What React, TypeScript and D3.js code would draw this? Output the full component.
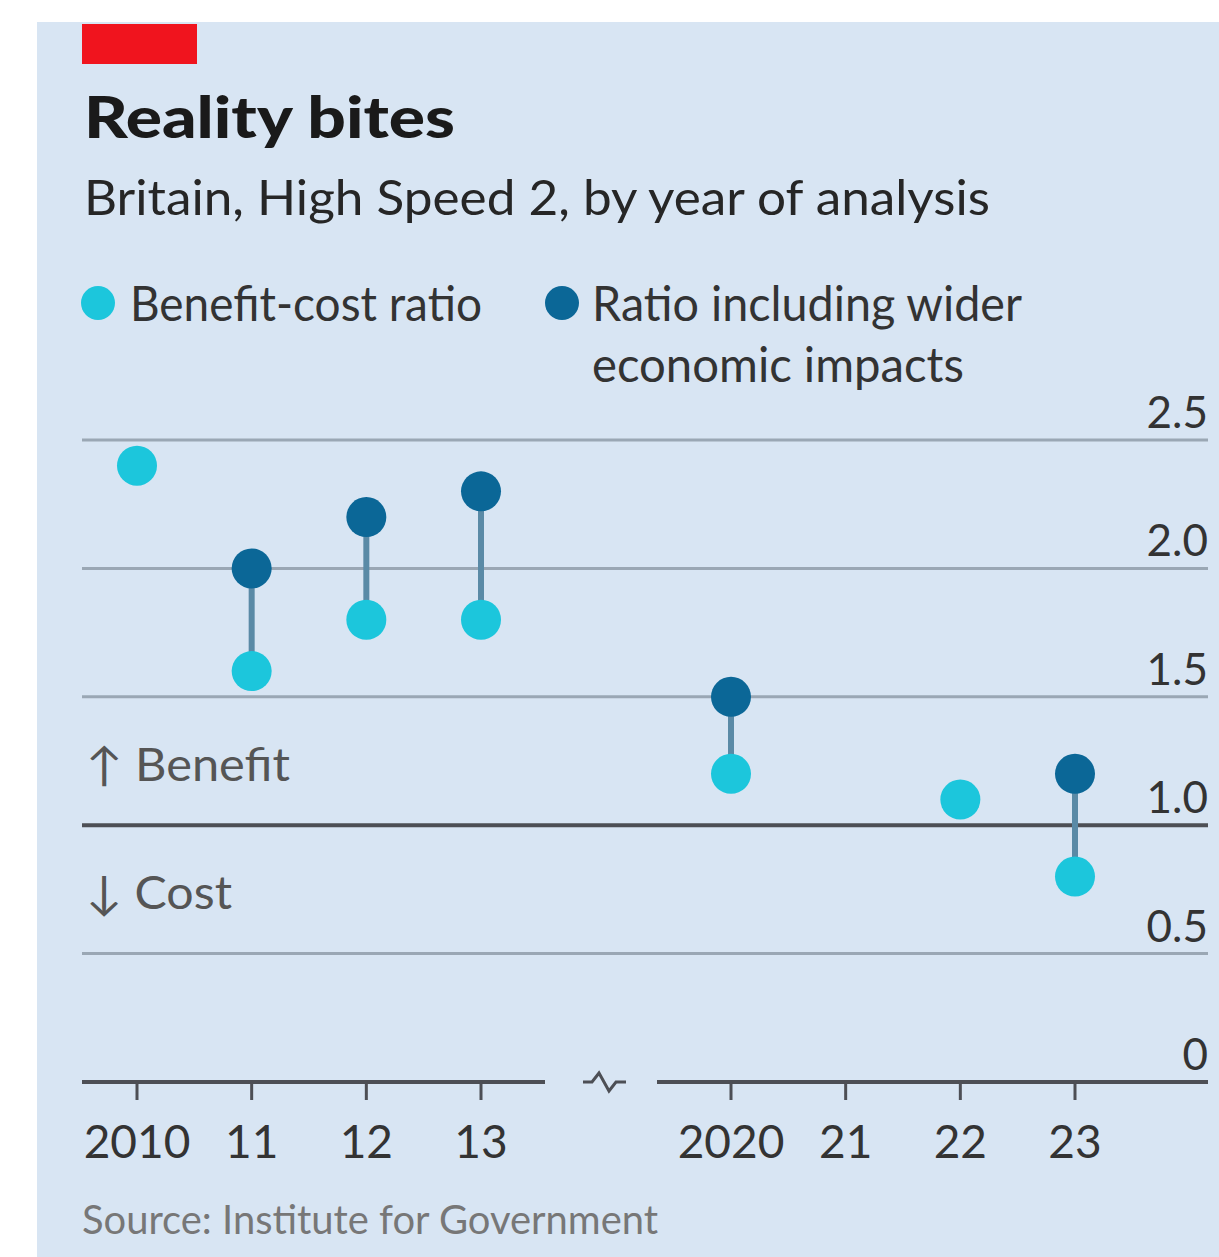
import React from "react";
import * as d3 from "d3";

const years = [2010, 2011, 2012, 2013, 2020, 2021, 2022, 2023];
const tickLabels = ["2010", "11", "12", "13", "2020", "21", "22", "23"];
const benefitCost: (number | null)[] = [2.4, 1.6, 1.8, 1.8, 1.2, null, 1.1, 0.8];
const widerImpacts: (number | null)[] = [null, 2.0, 2.2, 2.3, 1.5, null, null, 1.2];
const yTicks = [0, 0.5, 1.0, 1.5, 2.0, 2.5];
const yTickLabels = ["0", "0.5", "1.0", "1.5", "2.0", "2.5"];

const W = 1219;
const H = 1257;
const FONT = "Lato, 'Open Sans', sans-serif";
const LIGHT = "#1cc6dc";
const DARK = "#0b6797";
const STEM = "#5a8aa6";

export default function App() {
  const x = d3.scaleLinear().domain([2010, 2013, 2020, 2023]).range([137, 481, 731, 1075]);
  const y = d3.scaleLinear().domain([0, 2.5]).range([1082, 440]);
  const left = 82;
  const right = 1208;
  const breakL = 545;
  const breakR = 657;
  const r = 20;

  return (
    <svg width={W} height={H} style={{ position: "absolute", left: 0, top: 0 }}>
      <rect x={0} y={0} width={W} height={H} fill="#ffffff" />
      <rect x={37} y={22} width={W - 37} height={H - 22} fill="#d8e5f3" />
      <rect x={82} y={24} width={115} height={40} fill="#f0141e" />
      <text x={84} y={138} fontFamily={FONT} fontWeight={900} fontSize={58} fill="#1a1a1a" textLength={371} lengthAdjust="spacingAndGlyphs">
        Reality bites
      </text>
      <text x={84} y={215} fontFamily={FONT} fontSize={48} fill="#262626" textLength={906} lengthAdjust="spacingAndGlyphs">
        Britain, High Speed 2, by year of analysis
      </text>

      {/* legend */}
      <circle cx={98} cy={303} r={17} fill={LIGHT} />
      <text x={130} y={321} fontFamily={FONT} fontSize={48} fill="#333" textLength={352} lengthAdjust="spacingAndGlyphs">
        Benefit-cost ratio
      </text>
      <circle cx={562} cy={303} r={17} fill={DARK} />
      <text x={592} y={321} fontFamily={FONT} fontSize={48} fill="#333" textLength={430} lengthAdjust="spacingAndGlyphs">
        Ratio including wider
      </text>
      <text x={592} y={382} fontFamily={FONT} fontSize={48} fill="#333" textLength={372} lengthAdjust="spacingAndGlyphs">
        economic impacts
      </text>

      {/* gridlines */}
      {yTicks.map((t, i) =>
        t === 0 ? null : (
          <line
            key={"g" + i}
            x1={left}
            x2={right}
            y1={y(t)}
            y2={y(t)}
            stroke={t === 1 ? "#4d4f55" : "#9aa7b4"}
            strokeWidth={t === 1 ? 4 : 3}
          />
        )
      )}
      {yTicks.map((t, i) => (
        <text
          key={"yl" + i}
          x={right}
          y={y(t) - 12}
          textAnchor="end"
          fontFamily={FONT}
          fontSize={44}
          fill="#333"
        >
          {yTickLabels[i]}
        </text>
      ))}

      {/* benefit / cost annotations */}
      <text x={86} y={781} fontFamily={FONT} fontSize={46} fill="#555" textLength={204} lengthAdjust="spacingAndGlyphs">
        ↑ Benefit
      </text>
      <text x={86} y={909} fontFamily={FONT} fontSize={46} fill="#555" textLength={146} lengthAdjust="spacingAndGlyphs">
        ↓ Cost
      </text>

      {/* x axis with break */}
      <line x1={left} x2={breakL} y1={y(0)} y2={y(0)} stroke="#4d4f55" strokeWidth={4} />
      <line x1={breakR} x2={right} y1={y(0)} y2={y(0)} stroke="#4d4f55" strokeWidth={4} />
      <path
        d={`M${583},${y(0)} L${592},${y(0)} L${599},${y(0) - 9} L${609},${y(0) + 9} L${616},${y(0)} L${626},${y(0)}`}
        fill="none"
        stroke="#4d4f55"
        strokeWidth={3}
      />
      {years.map((yr, i) => (
        <g key={"xt" + i}>
          <line x1={x(yr)} x2={x(yr)} y1={y(0)} y2={y(0) + 18} stroke="#4d4f55" strokeWidth={3} />
          <text x={x(yr)} y={1158} textAnchor="middle" fontFamily={FONT} fontSize={46} fill="#333">
            {tickLabels[i]}
          </text>
        </g>
      ))}

      {/* stems */}
      {years.map((yr, i) =>
        benefitCost[i] != null && widerImpacts[i] != null ? (
          <line
            key={"s" + i}
            x1={x(yr)}
            x2={x(yr)}
            y1={y(benefitCost[i] as number)}
            y2={y(widerImpacts[i] as number)}
            stroke={STEM}
            strokeWidth={6}
          />
        ) : null
      )}
      {years.map((yr, i) =>
        benefitCost[i] != null ? (
          <circle key={"b" + i} cx={x(yr)} cy={y(benefitCost[i] as number)} r={r} fill={LIGHT} />
        ) : null
      )}
      {years.map((yr, i) =>
        widerImpacts[i] != null ? (
          <circle key={"w" + i} cx={x(yr)} cy={y(widerImpacts[i] as number)} r={r} fill={DARK} />
        ) : null
      )}

      <text x={82} y={1234} fontFamily={FONT} fontSize={40} fill="#777" textLength={576} lengthAdjust="spacingAndGlyphs">
        Source: Institute for Government
      </text>
    </svg>
  );
}
